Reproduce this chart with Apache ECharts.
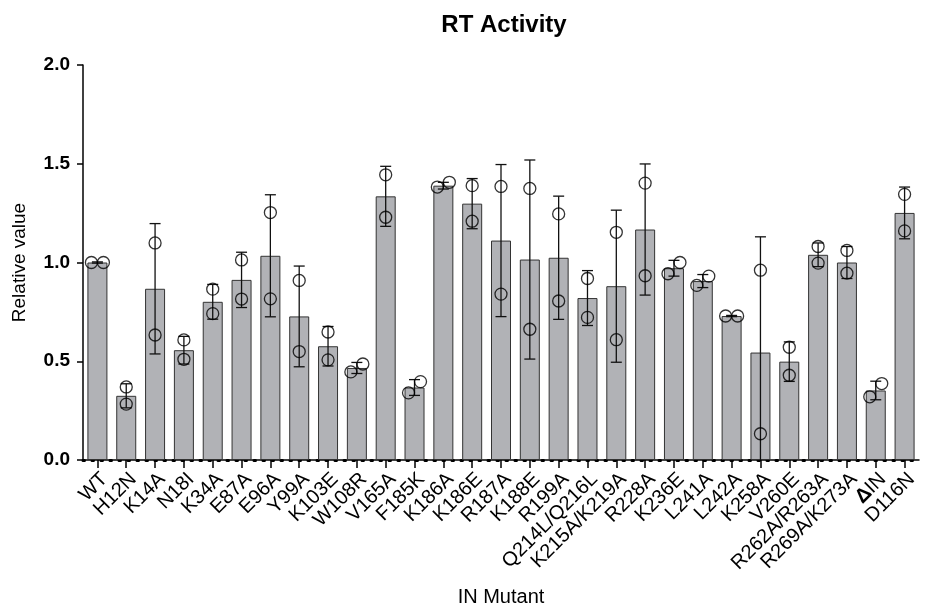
<!DOCTYPE html>
<html><head><meta charset="utf-8">
<script src="https://cdn.jsdelivr.net/npm/echarts@6/dist/echarts.min.js"></script>
<style>html,body{margin:0;padding:0;background:#fff}#c{width:928px;height:612px}</style>
</head><body><div id="c"></div>
<script>
const categories = ['WT','H12N','K14A','N18I','K34A','E87A','E96A','Y99A','K103E','W108R','V165A','F185K','K186A','K186E','R187A','K188E','R199A','Q214L/Q216L','K215A/K219A','R228A','K236E','L241A','L242A','K258A','V260E','R262A/R263A','R269A/K273A','ΔIN','D116N'];
const means = [1.0,0.325,0.867,0.556,0.801,0.912,1.034,0.727,0.576,0.466,1.335,0.367,1.389,1.298,1.111,1.015,1.024,0.820,0.880,1.167,0.971,0.906,0.729,0.544,0.498,1.039,1.0,0.352,1.251];
const sds = [0.003,0.061,0.330,0.070,0.088,0.140,0.309,0.255,0.100,0.028,0.152,0.040,0.017,0.127,0.385,0.504,0.312,0.139,0.385,0.332,0.040,0.033,0.003,0.586,0.100,0.060,0.081,0.047,0.131];
const pointsLow = [1.0,0.283,0.633,0.510,0.741,0.815,0.816,0.549,0.507,0.446,1.229,0.340,1.382,1.209,0.840,0.662,0.805,0.722,0.609,0.933,0.943,0.884,0.729,0.133,0.429,0.997,0.946,0.320,1.160];
const pointsHigh = [1.0,0.370,1.099,0.608,0.865,1.013,1.253,0.909,0.648,0.486,1.444,0.397,1.406,1.389,1.385,1.375,1.246,0.919,1.153,1.402,1.0,0.931,0.729,0.961,0.571,1.081,1.061,0.387,1.345];
const yMin = 0, yMax = 2, yStep = 0.5;

const FONT = '"Liberation Sans", Arial, sans-serif';
const chart = echarts.init(document.getElementById('c'), null, {renderer: 'canvas'});

const errData = means.map((m, i) => [i, Math.max(0, m - sds[i]), m + sds[i]]);
const OVERLAP = 0.075;
const JIT = 6;
const lowPts = pointsLow.map((v, i) => ({value: [i, v], symbolOffset: [Math.abs(pointsHigh[i] - v) < OVERLAP ? -JIT : 0, 0]}));
const highPts = pointsHigh.map((v, i) => ({value: [i, v], symbolOffset: [Math.abs(pointsLow[i] - v) < OVERLAP ? JIT : 0, 0]}));

const pointStyle = {color: 'rgba(0,0,0,0)', borderColor: '#000', borderWidth: 1.3};

chart.setOption({
  animation: false,
  backgroundColor: '#fff',
  title: {
    text: 'RT Activity', left: 499, top: 8, textAlign: 'center',
    textStyle: {fontFamily: FONT, fontSize: 24, fontWeight: 'bold', color: '#000'}
  },
  grid: {left: 83, right: 9, top: 65, bottom: 151, containLabel: false},
  xAxis: [{
    type: 'category', data: categories,
    name: 'IN Mutant', nameLocation: 'middle', nameGap: 127,
    nameTextStyle: {fontFamily: FONT, fontSize: 20, color: '#000'},
    axisLine: {show: true, lineStyle: {color: '#000', width: 1.5}},
    axisTick: {show: true, alignWithLabel: true, length: 8, lineStyle: {color: '#000', width: 1.5}},
    axisLabel: {
      rotate: 45, interval: 0, margin: 9, fontFamily: FONT, fontSize: 20, color: '#000',
      align: 'right', verticalAlign: 'top',
      formatter: v => v.charAt(0) === 'Δ' ? '{d|Δ}' + v.slice(1) : v,
      rich: {d: {fontFamily: FONT, fontSize: 20, fontWeight: 'bold', color: '#000'}}
    },
    splitLine: {show: false}
  }, {
    type: 'value', position: 'bottom', min: 0, max: 1,
    axisLine: {show: true, lineStyle: {color: '#000', width: 3, type: [1.5, 7.5]}},
    axisTick: {show: false}, axisLabel: {show: false}, splitLine: {show: false}
  }],
  yAxis: {
    type: 'value', min: yMin, max: yMax, interval: yStep, offset: 4,
    name: 'Relative value', nameLocation: 'middle', nameGap: 50,
    nameTextStyle: {fontFamily: FONT, fontSize: 19, color: '#000'},
    axisLine: {show: true, lineStyle: {color: '#000', width: 1.5}},
    axisTick: {show: true, length: 6, lineStyle: {color: '#000', width: 1.5}},
    axisLabel: {fontFamily: FONT, fontSize: 19, fontWeight: 'bold', color: '#000', margin: 9, formatter: v => v.toFixed(1)},
    splitLine: {show: false}
  },
  series: [
    {
      type: 'bar', data: means, barWidth: 20, xAxisIndex: 0,
      itemStyle: {color: '#b1b2b6', borderColor: '#333', borderWidth: 1}, z: 2
    },
    {
      type: 'custom', data: errData, xAxisIndex: 0, encode: {x: 0, y: [1, 2]}, z: 3,
      renderItem: function (params, api) {
        const x = api.value(0);
        const loV = api.value(1), hiV = api.value(2);
        const lo = api.coord([x, loV]);
        const hi = api.coord([x, hiV]);
        const cw = 5.5;
        const style = {stroke: '#111', lineWidth: 1.3};
        const children = [
          {type: 'line', shape: {x1: lo[0], y1: lo[1], x2: hi[0], y2: hi[1]}, style},
          {type: 'line', shape: {x1: hi[0] - cw, y1: hi[1], x2: hi[0] + cw, y2: hi[1]}, style}
        ];
        if (loV > 0) children.push({type: 'line', shape: {x1: lo[0] - cw, y1: lo[1], x2: lo[0] + cw, y2: lo[1]}, style});
        return {type: 'group', children};
      }
    },
    {type: 'scatter', data: lowPts, xAxisIndex: 0, symbol: 'circle', symbolSize: 12, itemStyle: pointStyle, z: 4},
    {type: 'scatter', data: highPts, xAxisIndex: 0, symbol: 'circle', symbolSize: 12, itemStyle: pointStyle, z: 4}
  ]
});
</script>
</body></html>
